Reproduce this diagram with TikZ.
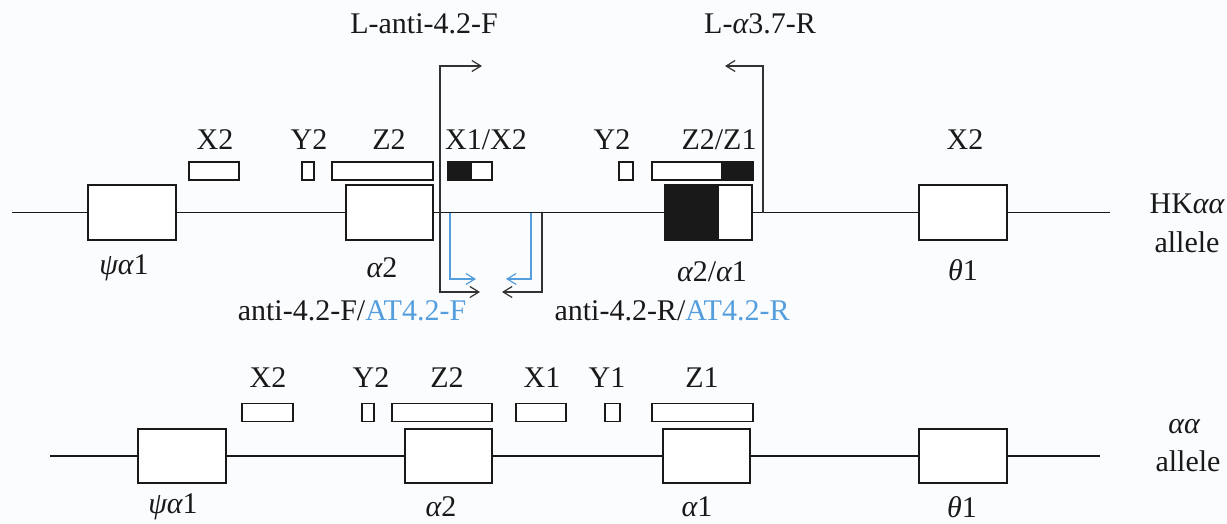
\documentclass[tikz,border=0pt]{standalone}
\usepackage{fontspec}
\setmainfont{Liberation Serif}
\usetikzlibrary{arrows.meta}
\definecolor{ink}{RGB}{25,25,25}
\definecolor{paper}{RGB}{251,252,254}
\definecolor{primerblue}{RGB}{85,158,222}
\definecolor{primergray}{RGB}{50,50,50}
\newcommand{\gr}[1]{{\itshape #1}}

\begin{document}
\begin{tikzpicture}[x=1pt,y=-1pt,
  >={Straight Barb[length=9pt,width=11pt]},
  exon/.style={draw=ink, line width=1.8pt, fill=white, inner sep=0pt, minimum height=55pt},
  probe/.style={draw=ink, line width=1.6pt, fill=white, inner sep=0pt, minimum height=18pt},
  lbl/.style={font=\fontsize{30}{34}\selectfont, inner sep=0pt, text=ink},
  chrom/.style={draw=ink, line width=1.2pt},
  primer/.style={line width=1.2pt, draw=primergray},
  bprimer/.style={line width=1.2pt, draw=primerblue}
]
% canvas
\fill[paper] (0,0) rectangle (1227,524);
\useasboundingbox (0,0) rectangle (1227,524);

% ---------------- HK alpha-alpha allele ----------------
\coordinate (t0) at (12,212.5);
\coordinate (t1) at (1110,212.5);
\node[exon, minimum width=88pt] (tpsi) at (132,212.5) {};
\node[exon, minimum width=87pt] (ta2) at (389.5,212.5) {};
\node[exon, minimum width=53pt, fill=ink] (thybA) at (691.5,212.5) {};
\node[exon, minimum width=34pt] (thybB) at (735,212.5) {};
\node[exon, minimum width=88pt] (tth) at (963,212.5) {};
\draw[chrom] (t0) -- (tpsi.west);
\draw[chrom] (tpsi.east) -- (ta2.west);
\draw[chrom] (ta2.east) -- (thybA.west);
\draw[chrom] (thybB.east) -- (tth.west);
\draw[chrom] (tth.east) -- (t1);

% homology boxes
\node[probe, minimum width=50pt] (tx2) at (214,171) {};
\node[probe, minimum width=12pt] (ty2) at (308,171) {};
\node[probe, minimum width=101pt] (tz2) at (382.5,171) {};
\node[probe, minimum width=23pt, fill=ink] (txhA) at (459.5,171) {};
\node[probe, minimum width=21pt] (txhB) at (481.5,171) {};
\node[probe, minimum width=14pt] (ty2b) at (626,171) {};
\node[probe, minimum width=70pt] (tzhA) at (687,171) {};
\node[probe, minimum width=31pt, fill=ink] (tzhB) at (737.5,171) {};

% labels
\node[lbl] (ltx2) at (215,140) {X2};
\node[lbl] (lty2) at (309,140) {Y2};
\node[lbl] (ltz2) at (389,140) {Z2};
\node[lbl] (ltxh) at (486,140) {X1/X2};
\node[lbl] (lty2b) at (612,140) {Y2};
\node[lbl] (ltzh) at (719,140) {Z2/Z1};
\node[lbl] (ltx2b) at (965,140) {X2};
\node[lbl] (ltpsi) at (124,268) {\gr{ψα}1};
\node[lbl] (lta2) at (382,268) {\gr{α}2};
\node[lbl] (lthyb) at (712,272) {\gr{α}2/\gr{α}1};
\node[lbl] (ltth) at (963,270) {\gr{θ}1};
\node[lbl] (ltallA) at (1187,204) {HK\gr{αα}};
\node[lbl] (ltallB) at (1187,242) {allele};

% primers
\coordinate (pf1) at (482,66);
\coordinate (pfc1) at (440,66);
\coordinate (pfc2) at (440,292);
\coordinate (pf2) at (480,292);
\draw[primer, <->] (pf1) -- (pfc1) -- (pfc2) -- (pf2);

\coordinate (pr0) at (542,212.5);
\coordinate (prc) at (542,292);
\coordinate (pr1) at (502,292);
\draw[primer, ->] (pr0) -- (prc) -- (pr1);

\coordinate (bf0) at (450,212.5);
\coordinate (bfc) at (450,279);
\coordinate (bf1) at (476,279);
\draw[bprimer, ->] (bf0) -- (bfc) -- (bf1);

\coordinate (br0) at (531,212.5);
\coordinate (brc) at (531,279);
\coordinate (br1) at (506,279);
\draw[bprimer, ->] (br0) -- (brc) -- (br1);

\coordinate (la0) at (763,212.5);
\coordinate (lac) at (763,66);
\coordinate (la1) at (725,66);
\draw[primer, ->] (la0) -- (lac) -- (la1);

\node[lbl] (llf) at (424,24) {L-anti-4.2-F};
\node[lbl] (llr) at (760,24) {L-\gr{α}3.7-R};
\node[lbl] (lpf) at (352,311) {anti-4.2-F/\textcolor{primerblue}{AT4.2-F}};
\node[lbl] (lpr) at (672,311) {anti-4.2-R/\textcolor{primerblue}{AT4.2-R}};

% ---------------- alpha-alpha allele ----------------
\coordinate (b0) at (50,456);
\coordinate (b1) at (1100,456);
\node[exon, minimum width=88pt, minimum height=54pt] (bpsi) at (182,456) {};
\node[exon, minimum width=87pt, minimum height=54pt] (ba2) at (448.5,456) {};
\node[exon, minimum width=87pt, minimum height=54pt] (ba1) at (706.5,456) {};
\node[exon, minimum width=88pt, minimum height=54pt] (bth) at (963,456) {};
\draw[chrom] (b0) -- (bpsi.west);
\draw[chrom] (bpsi.east) -- (ba2.west);
\draw[chrom] (ba2.east) -- (ba1.west);
\draw[chrom] (ba1.east) -- (bth.west);
\draw[chrom] (bth.east) -- (b1);

\node[probe, minimum width=51pt] (bx2) at (267.5,412.5) {};
\node[probe, minimum width=12pt] (by2) at (368,412.5) {};
\node[probe, minimum width=100pt] (bz2) at (442,412.5) {};
\node[probe, minimum width=50pt] (bx1) at (541,412.5) {};
\node[probe, minimum width=15pt] (by1) at (612.5,412.5) {};
\node[probe, minimum width=101pt] (bz1) at (702.5,412.5) {};

\node[lbl] (lbx2) at (268,378) {X2};
\node[lbl] (lby2) at (371,378) {Y2};
\node[lbl] (lbz2) at (447,378) {Z2};
\node[lbl] (lbx1) at (542,378) {X1};
\node[lbl] (lby1) at (607,378) {Y1};
\node[lbl] (lbz1) at (702,378) {Z1};
\node[lbl] (lbpsi) at (173,507) {\gr{ψα}1};
\node[lbl] (lba2) at (441,507) {\gr{α}2};
\node[lbl] (lba1) at (697,507) {\gr{α}1};
\node[lbl] (lbth) at (962,507) {\gr{θ}1};
\node[lbl] (lballA) at (1184,427) {\gr{αα}};
\node[lbl] (lballB) at (1188,461) {allele};
\end{tikzpicture}
\end{document}
